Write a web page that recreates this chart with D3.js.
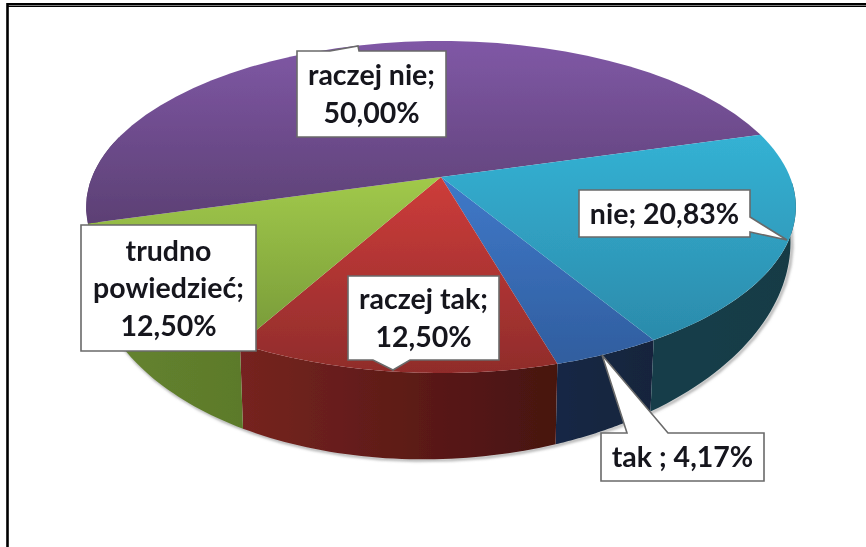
<!DOCTYPE html>
<html>
<head>
<meta charset="utf-8">
<script src="https://cdn.jsdelivr.net/npm/d3@7"></script>
<style>
html,body{margin:0;padding:0;background:#fff;}
svg{display:block;}
text{font-family:Lato,"Noto Sans",sans-serif;font-weight:700;font-size:28.5px;fill:#14141e;text-anchor:middle;}
</style>
</head>
<body>
<svg id="chart"></svg>
<script>
// data
const categories=["tak ","raczej tak","trudno powiedzieć","raczej nie","nie"];
const percents=[4.17,12.50,12.50,50.00,20.83];
const valueLabels=["4,17%","12,50%","12,50%","50,00%","20,83%"];

const width=866;
const height=547;
const svg=d3.select("#chart").attr("width",width).attr("height",height);

// colours for each slice: top light, top dark, wall at first angle, wall at last angle
const topLight=["#3f78c8","#cc3c3a","#a0c84a","#8058a6","#34b2d4"];
const topDark=["#2f5c9c","#8f2c2b","#6f9035","#5c4074","#2a84a4"];
const wallStart=["#14243c","#471210","#5c7a2b","#5a4070","#123b45"];
const wallEnd=["#172845","#762420","#67852f","#5a4070","#163d4a"];

// perspective of the disc: k pulls the front of the disc forward
const cx=441, cy=177, R=349, H=160.6, k=0.1807;
function topPoint(a){
    const u=Math.sin(a), v=-Math.cos(a);
    const w=v/(1-k*v);
    return [cx+R*u/(1-k*v),cy+H*w];
}
// the lower rim of the wall is a slightly narrower, tilted copy
function bottomPoint(a){
    const u=Math.sin(a), v=-Math.cos(a);
    const x=cx+0.985*R*u/(1-k*v);
    return [x,215+200*v/(1-k*v)-0.03*(x-cx)];
}

const start=149*Math.PI/180;
const pie=d3.pie().sort(null).value(d=>d).startAngle(start).endAngle(start+2*Math.PI);
const slices=pie(percents);

// wall is only seen on the front half
const frontFrom=92*Math.PI/180;
const frontTo=285*Math.PI/180;
function wallRange(d){
    const turn=d.startAngle>=2*Math.PI?2*Math.PI:0;
    return [Math.max(d.startAngle-turn,frontFrom),Math.min(d.endAngle-turn,frontTo)];
}

const defs=svg.append("defs");
slices.forEach(function(d,i){
    const g=defs.append("linearGradient").attr("id","top"+i)
        .attr("gradientUnits","userSpaceOnUse")
        .attr("x1",0).attr("x2",0).attr("y1",40).attr("y2",375);
    if(i==3){
        g.append("stop").attr("offset",0).attr("stop-color",topLight[i]);
        g.append("stop").attr("offset",0.55).attr("stop-color",topDark[i]);
    }else{
        g.append("stop").attr("offset",i==4?0.28:0.42).attr("stop-color",topLight[i]);
        g.append("stop").attr("offset",1).attr("stop-color",topDark[i]);
    }
    const r=wallRange(d);
    const s=defs.append("linearGradient").attr("id","wall"+i)
        .attr("gradientUnits","userSpaceOnUse")
        .attr("x1",topPoint(r[0])[0]).attr("x2",topPoint(r[1])[0])
        .attr("y1",0).attr("y2",0);
    s.append("stop").attr("offset",0).attr("stop-color",wallStart[i]);
    s.append("stop").attr("offset",1).attr("stop-color",wallEnd[i]);
});
const blur=defs.append("filter").attr("id","soft")
    .attr("x","-5%").attr("y","-5%").attr("width","110%").attr("height","110%");
blur.append("feGaussianBlur").attr("stdDeviation",1.5);
// the whole picture is a bit soft, only the frame is sharp
const soft=defs.append("filter").attr("id","fine")
    .attr("filterUnits","userSpaceOnUse")
    .attr("x",0).attr("y",0).attr("width",width).attr("height",height);
soft.append("feGaussianBlur").attr("stdDeviation",0.55);

function angleSteps(a0,a1){
    return d3.range(0,41).map(i=>a0+(a1-a0)*i/40);
}
const line=d3.line();

function wallPath(d){
    const r=wallRange(d);
    if(r[1]<=r[0]) return null;
    const steps=angleSteps(r[0],r[1]);
    return line(steps.map(topPoint).concat(steps.slice().reverse().map(bottomPoint)))+"Z";
}
function topPath(d){
    return line([[cx,cy]].concat(angleSteps(d.startAngle,d.endAngle).map(topPoint)))+"Z";
}

const all=svg.append("g").attr("filter","url(#fine)");
const chart=all.append("g");
// shadow under the wall
chart.append("path")
    .attr("d",line(angleSteps(frontFrom,frontTo).map(bottomPoint)))
    .attr("fill","none").attr("stroke","#8a8a8a").attr("stroke-width",2)
    .attr("transform","translate(1.5,1)").attr("filter","url(#soft)");

chart.selectAll(".wall").data(slices.filter(wallPath)).enter().append("path")
    .attr("class","wall")
    .attr("d",wallPath)
    .attr("fill",d=>"url(#wall"+d.index+")");

chart.selectAll(".slice").data(slices).enter().append("path")
    .attr("class","slice")
    .attr("d",topPath)
    .attr("fill",d=>"url(#top"+d.index+")");

// callouts, box plus pointer, same order as the categories
const callouts=[
    {x:601,y:433,w:163,h:48,tip:[602,355],base:[[627,433],[668,433]],lines:[categories[0]+"; "+valueLabels[0]]},
    {x:348,y:276,w:151,h:84,tip:[393,370],base:[[410,360],[373,360]],lines:[categories[1]+";",valueLabels[1]]},
    {x:81,y:225,w:175,h:126,lines:["trudno","powiedzieć;",valueLabels[2]]},
    {x:297,y:51,w:149,h:86,tip:[358,46],base:[[330,51],[359,51]],lines:[categories[3]+";",valueLabels[3]]},
    {x:579,y:190,w:171,h:47,tip:[787,240],base:[[750,232],[750,217]],lines:[categories[4]+"; "+valueLabels[4]]}
];

function calloutPath(c){
    const x0=c.x,x1=c.x+c.w,y0=c.y,y1=c.y+c.h;
    const p=[[x0,y0],[x1,y0],[x1,y1],[x0,y1]];
    if(!c.tip) return line(p)+"Z";
    // put the pointer in on the side its base sits on
    if(c.base[0][0]==x1) p.splice(2,0,c.base[1],c.tip,c.base[0]);
    else if(c.base[0][1]==y1) p.splice(3,0,c.base[0],c.tip,c.base[1]);
    else p.splice(1,0,c.base[0],c.tip,c.base[1]);
    return line(p)+"Z";
}

const labels=all.selectAll(".callout").data(callouts).enter().append("g").attr("class","callout");
labels.append("path")
    .attr("d",calloutPath)
    .attr("fill","#fff")
    .attr("stroke","#6a6a6a")
    .attr("stroke-width",1.6);
labels.each(function(c){
    const step=37.5;
    const top=c.y+c.h/2-(c.lines.length-1)*step/2+10;
    d3.select(this).selectAll("text").data(c.lines).enter().append("text")
        .attr("x",c.x+c.w/2)
        .attr("y",(d,i)=>top+i*step)
        .text(d=>d);
});

// outer frame, double line along the top
svg.append("path")
    .attr("d",line([[7.5,height],[7.5,4.3],[width,4.3]]))
    .attr("fill","none").attr("stroke","#000").attr("stroke-width",2.6);
svg.append("path")
    .attr("d",line([[8,6.5],[width,6.5]]))
    .attr("fill","none").attr("stroke","#000").attr("stroke-width",1);
</script>
</body>
</html>
